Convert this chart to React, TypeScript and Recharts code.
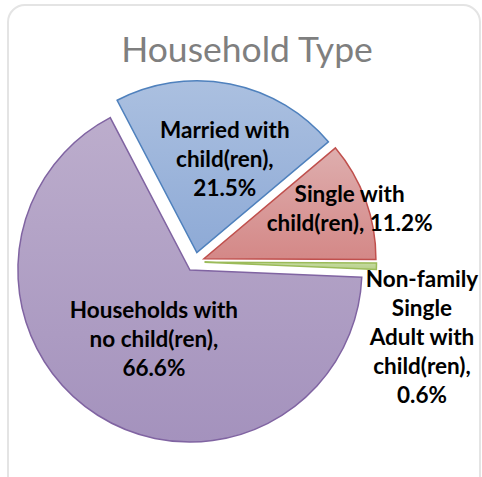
import { PieChart, Pie, Cell } from "recharts";

const categories = [
  "Married with child(ren)",
  "Single with child(ren)",
  "Non-family Single Adult with child(ren)",
  "Households with no child(ren)",
];
const shares = [21.5, 11.2, 0.6, 66.6];
const labelLines = [
  ["Married with", "child(ren),", "21.5%"],
  ["Single with", "child(ren), 11.2%"],
  ["Non-family", "Single", "Adult with", "child(ren),", "0.6%"],
  ["Households with", "no child(ren),", "66.6%"],
];

const data = categories.map((name, i) => ({ name, value: shares[i] }));

const fills = ["url(#gBlue)", "url(#gRed)", "url(#gGreen)", "url(#gPurple)"];
const strokes = ["#4f81bd", "#c0504d", "#9bbb59", "#8064a2"];

const START = 117.6;
const CX = 195;
const CY = 262;
const R = 172;
const EXPLODE = 9.5;
const LINE = 29;

// label block centre, relative to the slice's own (exploded) centre: [distance, angle]
const labelPlace = [
  [98, 73.4],
  [154, 18.9],
  [230, -19],
  [78, 242.5],
];

const total = shares.reduce((a, b) => a + b, 0);
const midAngles = shares.map((v, i) => {
  const before = shares.slice(0, i).reduce((a, b) => a + b, 0);
  return START - ((before + v / 2) / total) * 360;
});
const centres = midAngles.map((a) => {
  const rad = (a * Math.PI) / 180;
  return { x: CX + EXPLODE * Math.cos(rad), y: CY - EXPLODE * Math.sin(rad) };
});

const makeLabel = (k: number) => (props: any) => {
  const idx = props.index ?? categories.indexOf(props.name);
  if (idx !== k) return null;
  const [dist, ang] = labelPlace[k];
  const rad = (ang * Math.PI) / 180;
  const x = centres[k].x + dist * Math.cos(rad);
  const yc = centres[k].y - dist * Math.sin(rad);
  const lines = labelLines[k];
  const y0 = yc - ((lines.length - 1) / 2) * LINE + 8;
  return (
    <text
      key={`lbl-${k}`}
      x={x}
      y={y0}
      textAnchor="middle"
      fill="#000"
      fontFamily="Lato, sans-serif"
      fontWeight="bold"
      fontSize={22.5}
    >
      {lines.map((l, j) => (
        <tspan key={j} x={x} y={y0 + j * LINE}>
          {l}
        </tspan>
      ))}
    </text>
  );
};

export default function App() {
  return (
    <div
      style={{
        position: "absolute",
        left: 0,
        top: 0,
        width: 482,
        height: 477,
        overflow: "hidden",
        background: "#fff",
      }}
    >
      <div
        style={{
          position: "absolute",
          left: 7,
          top: 4,
          width: 474,
          height: 490,
          border: "2px solid #e4e4e4",
          borderRadius: 18,
          boxSizing: "border-box",
        }}
      />
      <div style={{ position: "absolute", left: 0, top: 0 }}>
        <PieChart width={482} height={477} margin={{ top: 0, right: 0, bottom: 0, left: 0 }}>
          <defs>
            <linearGradient id="gBlue" x1="0" y1="0" x2="0" y2="1">
              <stop offset="0%" stopColor="#abc0e0" />
              <stop offset="100%" stopColor="#8eaad6" />
            </linearGradient>
            <linearGradient id="gRed" x1="0" y1="0" x2="0" y2="1">
              <stop offset="0%" stopColor="#deaeae" />
              <stop offset="100%" stopColor="#d48887" />
            </linearGradient>
            <linearGradient id="gGreen" x1="0" y1="0" x2="0" y2="1">
              <stop offset="0%" stopColor="#c8dca4" />
              <stop offset="100%" stopColor="#b7d08a" />
            </linearGradient>
            <linearGradient id="gPurple" x1="0" y1="0" x2="0" y2="1">
              <stop offset="0%" stopColor="#bcadcc" />
              <stop offset="100%" stopColor="#a492bd" />
            </linearGradient>
          </defs>
          <text
            x={247}
            y={62}
            textAnchor="middle"
            fill="#7f7f7f"
            fontFamily="Lato, sans-serif"
            fontSize={35.5}
          >
            Household Type
          </text>
          {shares.map((_, k) => (
            <Pie
              key={k}
              data={data}
              dataKey="value"
              nameKey="name"
              cx={centres[k].x}
              cy={centres[k].y}
              outerRadius={R}
              startAngle={START}
              endAngle={START - 360}
              isAnimationActive={false}
              labelLine={false}
              label={makeLabel(k)}
            >
              {data.map((d, i) => (
                <Cell
                  key={d.name}
                  fill={i === k ? fills[i] : "transparent"}
                  stroke={i === k ? strokes[i] : "none"}
                  strokeWidth={1.5}
                />
              ))}
            </Pie>
          ))}
        </PieChart>
      </div>
    </div>
  );
}
